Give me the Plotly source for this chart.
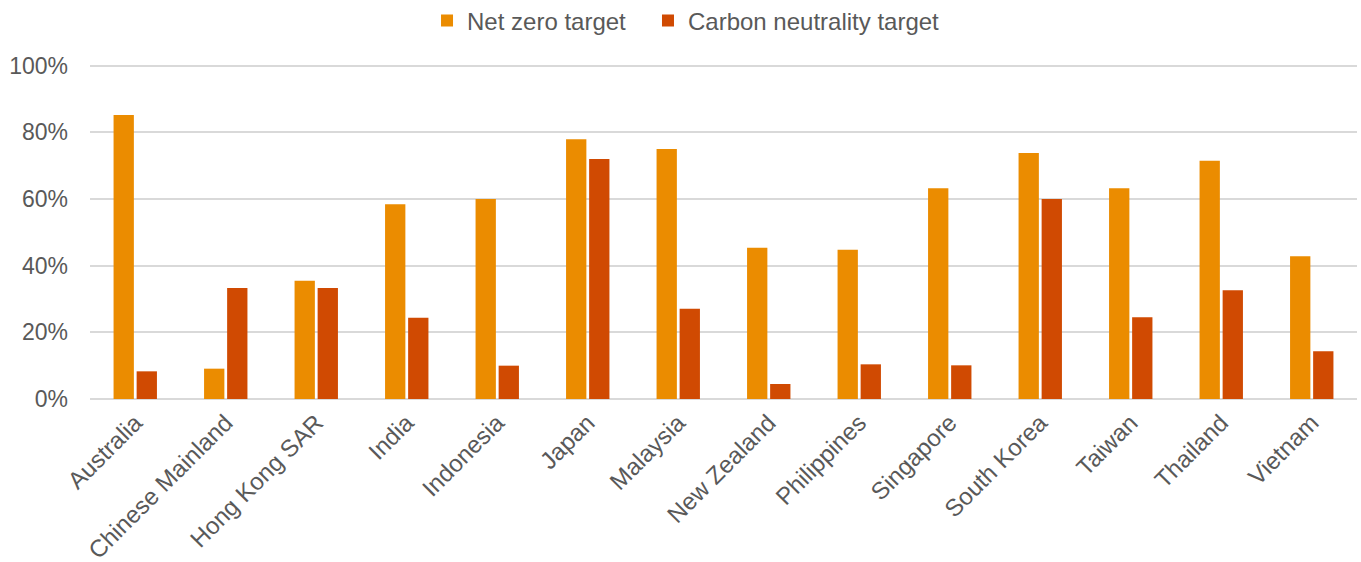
import plotly.graph_objects as go

categories = ["Australia", "Chinese Mainland", "Hong Kong SAR", "India", "Indonesia",
              "Japan", "Malaysia", "New Zealand", "Philippines", "Singapore",
              "South Korea", "Taiwan", "Thailand", "Vietnam"]
net_zero = [0.852, 0.091, 0.355, 0.584, 0.600, 0.779, 0.750, 0.454, 0.448, 0.632,
            0.738, 0.632, 0.715, 0.428]
carbon_neutral = [0.083, 0.333, 0.333, 0.244, 0.100, 0.720, 0.271, 0.045, 0.104, 0.101,
                  0.600, 0.245, 0.326, 0.143]
y_ticks = [0, 0.2, 0.4, 0.6, 0.8, 1.0]

FONT = "Liberation Sans, Arial, sans-serif"
GREY = "#595959"

fig = go.Figure()
fig.add_trace(go.Bar(name="Net zero target", x=categories, y=net_zero, legend="legend",
                     marker=dict(color="#EB8C00", line=dict(width=0))))
fig.add_trace(go.Bar(name="Carbon neutrality target", x=categories, y=carbon_neutral,
                     legend="legend2",
                     marker=dict(color="#D04A02", line=dict(width=0))))

legend_common = dict(orientation="h", xanchor="left", y=1.125, yanchor="middle",
                     font=dict(family=FONT, size=24, color=GREY),
                     itemwidth=30, bgcolor="rgba(0,0,0,0)")

fig.update_layout(
    width=1361, height=562,
    margin=dict(l=90, r=4, t=63, b=163, autoexpand=False),
    paper_bgcolor="white", plot_bgcolor="white",
    barmode="group", bargap=0.49, bargroupgap=0.12,
    font=dict(family=FONT, size=23, color=GREY),
    showlegend=True,
    legend=dict(x=0.266, **legend_common),
    legend2=dict(x=0.4404, **legend_common),
    xaxis=dict(tickangle=-45, showgrid=False, showline=False, ticks="",
               ticklabelstandoff=4,
               tickfont=dict(family=FONT, size=24, color=GREY), automargin=False),
    yaxis=dict(range=[0, 1.008], tickvals=y_ticks, tickformat=".0%",
               showgrid=True, gridcolor="#D9D9D9", gridwidth=1.5,
               zeroline=True, zerolinecolor="#D9D9D9", zerolinewidth=2,
               showline=False, ticks="", ticklen=0, automargin=False,
               ticklabelstandoff=21,
               tickfont=dict(family=FONT, size=23, color=GREY)),
)

fig.write_html("out.html", config={"displayModeBar": False},
               post_script="document.body.style.margin='0';document.body.style.overflow='hidden';")
